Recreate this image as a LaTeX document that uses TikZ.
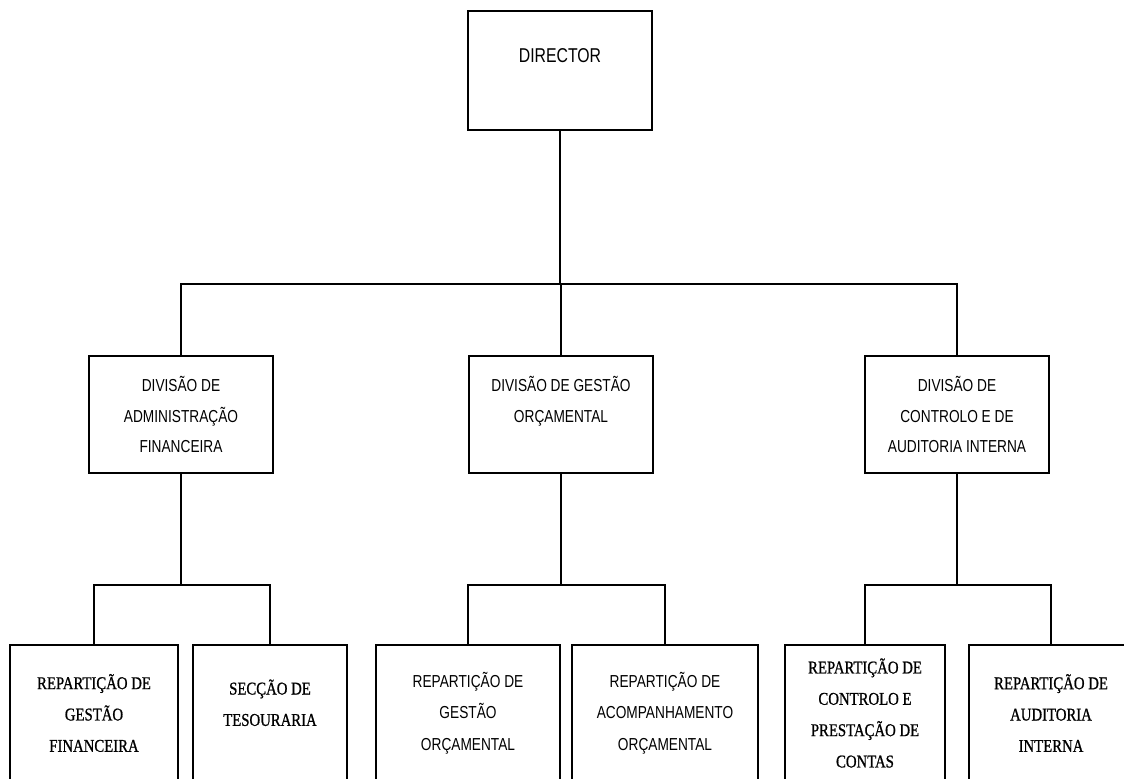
\documentclass[tikz,border=0pt]{standalone}
\usepackage{fontspec}
\newfontfamily\orgsans[FakeStretch=0.79]{Liberation Sans}
\newfontfamily\orgserif[FakeStretch=0.82,FakeBold=0.9]{Liberation Serif}

\begin{document}
\begin{tikzpicture}[x=0.75pt, y=-0.75pt, line width=1.2pt,
    unit/.style={rectangle, draw, inner sep=0pt, align=center},
    head/.style={unit, minimum width=138pt, minimum height=89.25pt,
      font=\orgsans\fontsize{15}{23}\selectfont},
    division/.style={unit, minimum width=138pt, minimum height=87.75pt,
      font=\orgsans\fontsize{13}{23}\selectfont},
    section/.style={unit, minimum height=102pt,
      font=\orgsans\fontsize{13}{23.5}\selectfont},
    oldsection/.style={section, font=\orgserif\fontsize{13.5}{23.5}\selectfont}
    ]
    \useasboundingbox (0,0) rectangle (1124,778);
    \node[head] (dir) at (560,70.5) {DIRECTOR\\\mbox{}};
    % divisions
    \node[division] (divA) at (181,414.5) {DIVISÃO DE\\ADMINISTRAÇÃO\\FINANCEIRA};
    \node[division] (divG) at (561,414.5) {DIVISÃO DE GESTÃO\\ORÇAMENTAL\\\mbox{}};
    \node[division] (divC) at (957,414.5) {DIVISÃO DE\\CONTROLO E DE\\AUDITORIA INTERNA};
    % repartições
    \node[oldsection, minimum width=126pt] (rgf) at (94,713) {REPARTIÇÃO DE\\GESTÃO\\FINANCEIRA};
    \node[oldsection, minimum width=115.5pt] (st) at (270,713) {SECÇÃO DE\\TESOURARIA\\[-8pt]\mbox{}};
    \node[section, minimum width=138pt] (rgo) at (468,713) {REPARTIÇÃO DE\\GESTÃO\\ORÇAMENTAL};
    \node[section, minimum width=139.5pt] (rao) at (665,713) {REPARTIÇÃO DE\\ACOMPANHAMENTO\\ORÇAMENTAL};
    \node[oldsection, minimum width=120pt] (rcp) at (865,713) {REPARTIÇÃO DE\\CONTROLO E\\PRESTAÇÃO DE\\CONTAS};
    \node[oldsection, minimum width=123pt] (rai) at (1051,713) {REPARTIÇÃO DE\\AUDITORIA\\INTERNA};
    % connectors
    \foreach \d in {divA,divG,divC}
      \draw (dir.south) -- ++(0,153) -| (\d.north);
    \foreach \p/\c in {divA/rgf, divA/st, divG/rgo, divG/rao, divC/rcp, divC/rai}
      \draw (\p.south) -- ++(0,111) -| (\c.north);
\end{tikzpicture}
\end{document}
